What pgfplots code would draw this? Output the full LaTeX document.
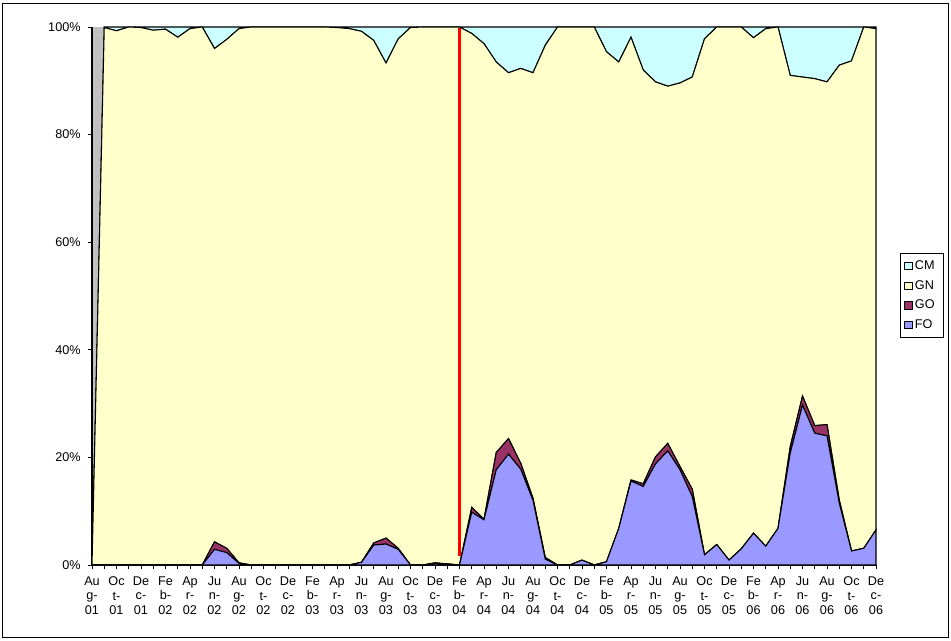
\documentclass[border=0pt]{standalone}
\usepackage{fontspec}
\setmainfont{Liberation Sans}
\usepackage{pgfplots}
\usepackage{pgfplotstable}
\pgfplotsset{compat=1.18}

\definecolor{cmcol}{HTML}{CCFFFF}
\definecolor{gncol}{HTML}{FFFFCC}
\definecolor{gocol}{HTML}{993366}
\definecolor{focol}{HTML}{9999FF}
\definecolor{bgcol}{HTML}{C0C0C0}

% monthly shares in percent, Aug-01 (i=0) to Dec-06 (i=64)
\pgfplotstableread{
i  FO   GO   GN    CM
0  0    0    0     0
1  0    0    99.9  0.1
2  0    0    99.3  0.7
3  0    0    100   0
4  0    0    99.9  0.1
5  0    0    99.4  0.6
6  0    0    99.6  0.4
7  0    0    98.1  1.9
8  0    0    99.7  0.3
9  0    0    100   0
10 2.9  1.4  91.7  4.0
11 2.3  0.8  94.6  2.3
12 0.3  0.1  99.3  0.3
13 0    0    100   0
14 0    0    100   0
15 0    0    100   0
16 0    0    100   0
17 0    0    100   0
18 0    0    100   0
19 0    0    100   0
20 0    0    99.9  0.1
21 0    0    99.7  0.3
22 0.5  0    98.7  0.8
23 3.7  0.4  93.4  2.5
24 3.9  1.1  88.3  6.7
25 2.9  0.2  94.7  2.2
26 0    0    99.9  0.1
27 0    0    100   0
28 0.3  0.1  99.6  0
29 0.2  0    99.8  0
30 0    0    100   0
31 9.8  0.9  88.1  1.2
32 8.4  0.1  88.4  3.1
33 17.7 3.2  72.6  6.5
34 20.6 2.9  68.0  8.5
35 17.8 1.1  73.4  7.7
36 12.0 0.4  79.1  8.5
37 1.1  0.3  95.2  3.4
38 0    0    100   0
39 0    0    100   0
40 0.9  0    99.1  0
41 0    0    100   0
42 0.6  0    94.8  4.6
43 6.8  0    86.7  6.5
44 15.6 0.2  82.3  1.9
45 14.6 0.5  76.9  8.0
46 18.8 1.3  69.7  10.2
47 21.2 1.4  66.4  11.0
48 17.7 0.6  71.3  10.4
49 12.7 1.4  76.6  9.3
50 1.9  0    95.9  2.2
51 3.8  0    96.2  0
52 0.9  0    99.1  0
53 3.0  0    97.0  0
54 5.9  0    92.1  2.0
55 3.5  0    96.2  0.3
56 6.8  0    93.2  0
57 20.8 1.2  69.0  9.0
58 29.7 1.7  59.3  9.3
59 24.5 1.4  64.5  9.6
60 24.0 2.1  63.7  10.2
61 11.5 0.6  80.8  7.1
62 2.6  0    91.1  6.3
63 3.1  0    96.9  0
64 6.5  0    93.2  0.3
}\shares

\begin{document}
\begin{tikzpicture}
\path[use as bounding box] (0,0) rectangle (713.25pt,480pt);
\draw[black, line width=0.75pt] (2.2pt,2.2pt) rectangle (711.2pt,477pt);
\begin{axis}[
    scale only axis,
    width=588pt, height=403.5pt,
    at={(69pt,56.25pt)}, anchor=south west,
    xmin=0, xmax=64, ymin=0, ymax=100,
    stack plots=y,
    clip=false,
    axis background/.style={fill=bgcol},
    axis x line=bottom, axis y line=left,
    axis line style={-, black, line width=0.8pt},
    tick align=outside,
    major tick length=3pt, minor tick length=3pt,
    tick style={black, line width=0.6pt},
    xtick={0,2,...,64},
    minor xtick={1,3,...,63},
    xticklabels={Au\\g-\\01,Oc\\t-\\01,De\\c-\\01,Fe\\b-\\02,Ap\\r-\\02,Ju\\n-\\02,
        Au\\g-\\02,Oc\\t-\\02,De\\c-\\02,Fe\\b-\\03,Ap\\r-\\03,Ju\\n-\\03,
        Au\\g-\\03,Oc\\t-\\03,De\\c-\\03,Fe\\b-\\04,Ap\\r-\\04,Ju\\n-\\04,
        Au\\g-\\04,Oc\\t-\\04,De\\c-\\04,Fe\\b-\\05,Ap\\r-\\05,Ju\\n-\\05,
        Au\\g-\\05,Oc\\t-\\05,De\\c-\\05,Fe\\b-\\06,Ap\\r-\\06,Ju\\n-\\06,
        Au\\g-\\06,Oc\\t-\\06,De\\c-\\06},
    x tick label style={align=center, font=\fontsize{9.5}{10.6}\selectfont, yshift=-2.5pt},
    ytick={0,20,...,100},
    yticklabels={0\%,20\%,40\%,60\%,80\%,100\%},
    y tick label style={font=\fontsize{9.5}{10.6}\selectfont, xshift=-2pt},
    reverse legend,
    legend style={at={(1.0306,0.58)}, anchor=north west, draw=black,
        line width=0.6pt, fill=white, font=\fontsize{9.5}{10}\selectfont,
        inner xsep=3pt, inner ysep=3.5pt, row sep=2.6pt, cells={anchor=west},
        nodes={text width=16pt}},
    legend image code/.code={\draw[#1,draw=black,line width=0.5pt] (0pt,-2.7pt) rectangle (5.4pt,2.7pt);},
]
\addplot[fill=focol, draw=black, line width=0.8pt] table[x=i, y=FO] {\shares} \closedcycle;
\addlegendentry{FO}
\addplot[fill=gocol, draw=black, line width=0.8pt] table[x=i, y=GO] {\shares} \closedcycle;
\addlegendentry{GO}
\addplot[fill=gncol, draw=black, line width=0.8pt] table[x=i, y=GN] {\shares} \closedcycle;
\addlegendentry{GN}
\addplot[fill=cmcol, draw=black, line width=0.8pt] table[x=i, y=CM] {\shares} \closedcycle;
\addlegendentry{CM}
\coordinate (redbot) at (axis cs:30,1.6);
\coordinate (redtop) at (axis cs:30,99.8);
\end{axis}
\draw[red, line width=2.2pt] (redbot) -- (redtop);
\end{tikzpicture}
\end{document}
